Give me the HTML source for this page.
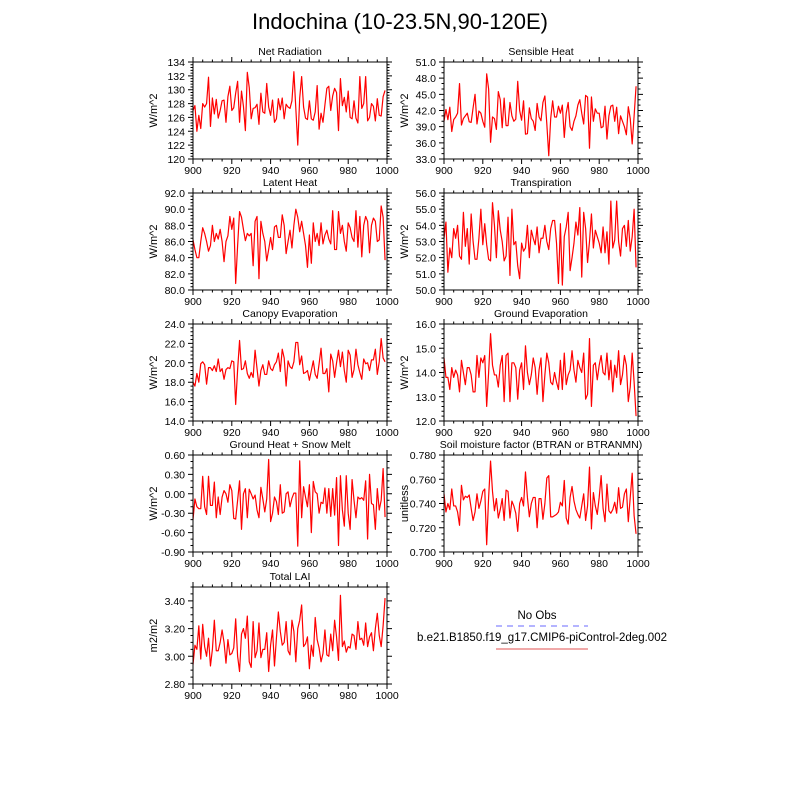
<!DOCTYPE html>
<html><head><meta charset="utf-8"><style>
body{margin:0;background:#fff}
svg{font-family:"Liberation Sans",sans-serif}
</style></head><body>
<svg id="c" width="800" height="800" xmlns="http://www.w3.org/2000/svg">
<rect width="800" height="800" fill="#fff"/>
<text x="400" y="29" font-size="22" text-anchor="middle">Indochina (10-23.5N,90-120E)</text>
<g>
<text x="537" y="619" font-size="11.5" text-anchor="middle">No Obs</text>
<line x1="496" y1="626" x2="588" y2="626" stroke="#6a6aff" stroke-width="1" stroke-dasharray="6,5"/>
<text x="542" y="641" font-size="11.5" text-anchor="middle">b.e21.B1850.f19_g17.CMIP6-piControl-2deg.002</text>
<line x1="496" y1="649" x2="588" y2="649" stroke="#e05050" stroke-width="1"/>
</g>
</svg>
<script>
const years0 = 900;
const xTicks = [900,920,940,960,980,1000];
const netRad = [127,127.7,124,126.3,124.4,128,127.5,128,131.8,124.7,128.8,126.5,128.6,125.9,127,128.4,128.5,125.3,129,130.5,127,127.4,129.5,131.2,125.3,129.8,127.6,124.1,132.5,130.3,125.8,127.3,127.4,127.9,125,129.5,126.8,126.6,130.9,127.5,126.3,128.5,125.3,125.8,128.7,127.1,128.8,125.8,127.9,127.5,127.3,128.4,132.6,127.3,122,128.8,131.9,127.5,125.9,125.7,128.4,125.8,125.6,126.8,130.6,124.3,126.6,125.3,127.8,130.2,130.5,127,129.1,130.2,129.6,124.1,131.6,127.7,128.9,126.8,129.8,126,125.8,128.4,125.9,125.2,131.9,127.3,128,131.9,125.5,126,128,127.6,125.5,128.7,126.3,126.2,129,129.9];
const sensible = [40,42.2,40.3,42.6,38.1,40.3,40.8,41.5,47,39.3,40.5,41,41.5,39.9,39.8,42.5,45,39.5,41.9,41.5,40,38.9,48.8,46,36.1,40.8,40.5,38.5,45.5,44,38.8,44.3,39.2,39.2,43.5,41,40,40.4,47.4,42,40.2,43.8,37.6,37.7,42.5,40.5,40,38.3,43.3,40.8,40.1,43.5,44.7,39.5,33.6,40.5,43.8,40.8,40.8,42.8,41.5,43,37,41.5,43.5,39,38.3,40,41,43,44,41.5,39.5,44.8,44.5,35,44.5,40,42.3,41.5,41.5,38.8,39,42.8,36.7,41,42.8,43,40,42.6,37.7,41,40,39,37.5,42.7,40.5,35.8,41,46.5];
const latent = [86.2,85,84,84,86,87.7,87,86,84.8,85.5,88,86,87,86.3,87.5,86,83.5,86,86.7,89.1,87.5,88.9,80.8,85.5,89.7,89,87.5,86.1,87,86.7,87,83,88.5,89.1,81.4,88.5,87,86,83.6,85,86.5,85,87.8,88,86.5,86.5,89.3,88,84.5,86,87.4,85.2,88,90,89,87.2,88.5,87,85.5,82.8,86.8,83.3,88.3,86,87,85.5,88.3,85.7,86.8,87.4,86.3,85.7,89.8,85,85,89.7,87,88,86,84.8,88.3,87.7,86.5,86,89.8,85.3,89.1,84.1,88,89.1,88.5,84.6,88,88.9,88.5,86,86.2,90.4,89,83.7];
const transp = [53.2,54.2,51.1,52.6,52,53.8,53.2,54,52.1,51.9,54.8,52.7,53.8,51.6,54.7,53,51.9,51.9,53.2,55,52.8,54.1,52.8,51.9,51.8,55.4,54,52,54.9,53.7,53,51.8,52.1,54.5,50.9,55,52.8,53,51.5,50.7,52.9,52.4,52.6,54,52,53.7,53.2,52.8,53.9,52.3,53.2,53.2,54,53,52.5,53.8,54.3,54.3,52.9,50.4,54.1,50.3,53.3,53.9,54.8,51.2,52,52.9,54.2,53.4,55.1,50.8,54.8,53.8,51.7,53,54.7,52.6,53.7,53.3,52.9,52.3,53.9,52.3,53.6,51.6,55.5,52.6,53.1,55.5,53,52.1,53.8,54,52.7,54.3,52.4,53.3,55,51.4];
const canopy = [18,17.6,18.9,18,19.9,20.1,19.8,17.8,19.5,19.5,19.2,19.7,19.1,20.4,19.1,19.4,18.3,19.3,19.5,19.4,20.2,20.1,15.7,19.3,22.3,19.3,19.4,20.2,18.9,18.4,19,18.5,21.3,19.4,17.6,19.2,19.8,18.8,18.8,20.2,19.4,19.2,19.8,20.1,21,19.1,21.4,20.5,17.6,20.2,19.6,19.4,20.1,22.1,22.1,19.8,20.7,18.9,19,19.2,18.2,19.2,20.2,18.8,18.4,19.9,21.5,18.9,18.9,19.4,17,20.9,20.2,18.5,20,21.3,19.6,21.1,19.2,18,21.3,20.8,18.5,19.3,21.4,19.8,19,18.3,20.4,19.9,20,19.2,20.3,20.3,21.4,18.8,20.1,22.5,20.5,20.1];
const groundEvap = [14.6,13.8,13.8,13.3,14.2,13.8,14.1,13.9,13.2,14.5,14,13.5,14.2,14.2,13.9,13.2,13.2,14.7,13.8,14.6,14.4,14.7,12.6,14,15.6,14.3,13.9,13.9,13.4,14.3,14.7,12.8,14.7,14.8,12.8,14.4,14.4,14.2,12.9,14.1,14.4,13.3,15.1,14,13.5,13.9,14.6,14.2,13.1,14.1,14.6,12.8,13.9,14.8,14.4,13.6,13.5,14,13.6,13.3,14.5,13.3,14.8,13.5,13.9,14.1,14.9,14.1,13.6,14.5,14.2,14,14.8,12.9,13.1,15.4,12.6,14.3,14.4,13.7,14.3,14.7,14,13.9,14.8,13.7,14.5,13.2,14.3,13.8,14.9,13.5,13.9,14.7,14.3,12.8,13.4,14.8,13.6,12.2];
const groundHeat = [-0.4,-0.08,-0.2,-0.23,-0.23,0.27,-0.2,-0.32,0.27,-0.18,-0.18,0.18,-0.37,-0.05,-0.32,-0.05,0.05,0,-0.13,0.14,0.05,-0.38,-0.39,-0.1,0.2,-0.55,0,0.08,-0.37,0.07,0,-0.08,-0.02,-0.25,-0.37,0.1,-0.08,-0.28,-0.08,0.53,-0.43,-0.3,-0.05,-0.12,-0.32,0.14,-0.3,-0.28,0,0.03,-0.2,-0.07,0.01,0.01,-0.81,0.51,-0.37,0.11,-0.05,-0.2,0.14,-0.6,0.19,0.03,0,-0.3,-0.13,-0.15,0.09,-0.3,0.08,-0.35,0.08,-0.33,0.25,-0.8,0.28,-0.25,-0.5,0.28,-0.3,-0.55,0.22,-0.1,-0.37,-0.05,-0.08,-0.06,-0.1,0.2,-0.7,0.3,-0.15,-0.17,-0.55,0.08,-0.25,-0.1,0.39,-0.36];
const soilMoist = [0.748,0.733,0.74,0.735,0.752,0.738,0.738,0.733,0.722,0.755,0.743,0.746,0.745,0.747,0.736,0.726,0.733,0.748,0.736,0.742,0.75,0.752,0.706,0.745,0.775,0.75,0.734,0.744,0.728,0.735,0.744,0.726,0.751,0.75,0.728,0.742,0.738,0.732,0.717,0.74,0.745,0.738,0.766,0.745,0.729,0.74,0.745,0.745,0.72,0.744,0.744,0.727,0.74,0.761,0.763,0.729,0.729,0.73,0.731,0.733,0.741,0.738,0.759,0.728,0.723,0.745,0.754,0.742,0.735,0.731,0.728,0.738,0.748,0.726,0.738,0.77,0.719,0.749,0.738,0.731,0.745,0.763,0.736,0.725,0.756,0.734,0.732,0.735,0.741,0.732,0.753,0.736,0.737,0.748,0.752,0.725,0.745,0.765,0.73,0.715];
const lai = [2.94,3.08,3.05,3.22,2.98,3.23,3.07,3.0,3.13,2.93,3.05,3.26,3.04,3.04,3.1,3.19,3.1,2.95,3.12,3.01,3.02,3.06,3.27,3.0,2.89,3.16,3.2,3.13,3.29,2.96,2.92,3.25,2.99,3.04,3.24,2.99,3.05,3.05,3.17,2.89,3.08,3.19,2.93,3.13,3.32,3.18,3.08,3.1,3.25,3.04,3.01,3.26,3.18,2.96,3.2,3.26,3.37,3.07,3.09,3.14,2.91,3.08,3.0,3.28,3.12,3.06,2.96,3.02,3.19,3.01,3.0,3.16,3.04,3.26,3.14,2.97,3.44,3.07,3.11,3.03,3.07,3.06,3.16,3.15,3.05,3.25,3.12,3.13,3.08,3.24,3.07,3.14,3.17,3.04,3.2,3.31,3.15,3.07,3.22,3.42];

const panels = [
 {id:'net-radiation',title:'Net Radiation',unit:'W/m^2',data:netRad,ymin:120,ymax:134,step:2,minor:4,dec:0,x:193,y:62},
 {id:'sensible-heat',title:'Sensible Heat',unit:'W/m^2',data:sensible,ymin:33,ymax:51,step:3,minor:2,dec:1,x:444,y:62},
 {id:'latent-heat',title:'Latent Heat',unit:'W/m^2',data:latent,ymin:80,ymax:92,step:2,minor:4,dec:1,x:193,y:193},
 {id:'transpiration',title:'Transpiration',unit:'W/m^2',data:transp,ymin:50,ymax:56,step:1,minor:4,dec:1,x:444,y:193},
 {id:'canopy-evaporation',title:'Canopy Evaporation',unit:'W/m^2',data:canopy,ymin:14,ymax:24,step:2,minor:4,dec:1,x:193,y:324},
 {id:'ground-evaporation',title:'Ground Evaporation',unit:'W/m^2',data:groundEvap,ymin:12,ymax:16,step:1,minor:4,dec:1,x:444,y:324},
 {id:'ground-heat-snow-melt',title:'Ground Heat + Snow Melt',unit:'W/m^2',data:groundHeat,ymin:-0.9,ymax:0.6,step:0.3,minor:2,dec:2,x:193,y:455},
 {id:'soil-moisture-factor',title:'Soil moisture factor (BTRAN or BTRANMN)',unit:'unitless',data:soilMoist,ymin:0.70,ymax:0.78,step:0.02,minor:3,dec:3,x:444,y:455},
 {id:'total-lai',title:'Total LAI',unit:'m2/m2',data:lai,ymin:2.8,ymax:3.5,step:0.2,minor:3,dec:2,x:193,y:587}
];
const W=194,H=97,NS='http://www.w3.org/2000/svg',svg=document.getElementById('c');
function mk(tag,at,parent){const e=document.createElementNS(NS,tag);for(const k in at)e.setAttribute(k,at[k]);(parent||svg).appendChild(e);return e;}
panels.forEach(p=>{
 const g=mk('g',{});
 
 
 const sx=v=>p.x+(v-900)/100*W;
 const sy=v=>p.y+H-(v-p.ymin)/(p.ymax-p.ymin)*H;
 const t=mk('text',{x:p.x+W/2,y:p.y-7,'font-size':10.5,'text-anchor':'middle'},g);t.textContent=p.title;
 
 
 const yt=mk('text',{x:0,y:0,'font-size':11,'text-anchor':'middle',transform:`translate(${p.x-36},${p.y+H/2}) rotate(-90)`},g);yt.textContent=p.unit;
 
 
 let tk='';
 const eps=p.step*1e-6;
 for(let i=0;;i++){
  const v=p.ymin+i*p.step;
  if(v>p.ymax+eps)break;
  const yy=sy(v);
  tk+=`M${p.x} ${yy}h-5M${p.x+W} ${yy}h5`;
  let s=v.toFixed(p.dec); if(/^-0(\.0+)?$/.test(s)) s=s.slice(1);
  const l=mk('text',{x:p.x-8,y:yy+4,'font-size':10.5,'text-anchor':'end'},g);l.textContent=s;
  
  
  for(let m=1;m<=p.minor;m++){const vm=v+p.step*m/(p.minor+1);if(vm>p.ymax+eps)break;const ym=sy(vm);tk+=`M${p.x} ${ym}h-2.5M${p.x+W} ${ym}h2.5`;}
 }
 for(let v=900;v<=1000;v+=5){
  const xx=sx(v),len=(v%20===0)?5:2.5;
  tk+=`M${xx} ${p.y+H}v${len}M${xx} ${p.y}v-${len}`;
 }
 xTicks.forEach(v=>{const l=mk('text',{x:sx(v),y:p.y+H+15,'font-size':10.5,'text-anchor':'middle'},g);l.textContent=v;
  
  });
 const ticks=mk('path',{d:tk,stroke:'#000','stroke-width':1,fill:'none'},g);
 
 
 const pts=p.data.map((v,i)=>`${sx(years0+i).toFixed(2)},${sy(v).toFixed(2)}`).join(' ');
 const pl=mk('polyline',{points:pts,fill:'none',stroke:'#ff0000','stroke-width':1.2,'stroke-linejoin':'round'},g);
 
 
 const fr=mk('rect',{x:p.x,y:p.y,width:W,height:H,fill:'none',stroke:'#000','stroke-width':1},g);
 
 
});
</script>
</body></html>
